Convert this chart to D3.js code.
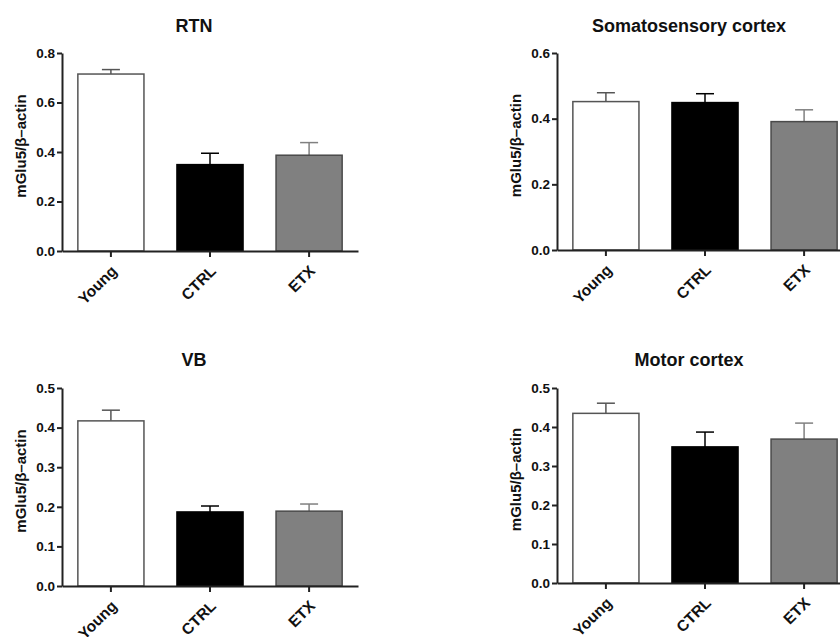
<!DOCTYPE html>
<html lang="en">

<head>
  <meta charset="UTF-8" />
  <script src="https://d3js.org/d3.v7.min.js"></script>
  <style>
    body {
      margin: 0;
      background-color: #fff;
      overflow: hidden;
    }

    svg {
      width: 840px;
      height: 637px;
      display: block;
      font-family: "Liberation Sans", Arial, sans-serif;
      font-weight: bold;
    }
  </style>
</head>

<body>
  <svg></svg>

  <script>
    const categories = ["Young", "CTRL", "ETX"];
    const titles = ["RTN", "Somatosensory cortex", "VB", "Motor cortex"];
    const yMax = [0.8, 0.6, 0.5, 0.5];
    const yTickStep = [0.2, 0.2, 0.1, 0.1];

    const rtnMean = [0.715, 0.349, 0.387];
    const rtnSem = [0.018, 0.046, 0.051];
    const somatoMean = [0.452, 0.449, 0.391];
    const somatoSem = [0.027, 0.027, 0.036];
    const vbMean = [0.417, 0.187, 0.189];
    const vbSem = [0.027, 0.015, 0.018];
    const motorMean = [0.435, 0.349, 0.369];
    const motorSem = [0.026, 0.038, 0.041];

    const means = [rtnMean, somatoMean, vbMean, motorMean];
    const sems = [rtnSem, somatoSem, vbSem, motorSem];

    const fills = ["#ffffff", "#000000", "#808080"];
    const strokes = ["#555555", "#000000", "#4a4a4a"];
    const errColors = ["#555555", "#000000", "#808080"];

    // panel geometry: y-axis x, plot top, plot bottom, title baseline
    const panels = [
      { left: 62, top: 53, bottom: 251, titleY: 32 },
      { left: 557, top: 53, bottom: 250, titleY: 32 },
      { left: 62, top: 388, bottom: 586, titleY: 366 },
      { left: 557, top: 388, bottom: 583, titleY: 366 }
    ];

    const svg = d3.select("svg");

    panels.forEach((p, i) => {
      const g = svg.append("g");
      const x = d3.scaleBand()
        .domain(categories)
        .range([p.left, p.left + 296])
        .paddingInner(0.333)
        .paddingOuter(0.16);
      const y = d3.scaleLinear()
        .domain([0, yMax[i]])
        .range([p.bottom, p.top]);

      const data = categories.map((c, j) => ({ cat: c, mean: means[i][j], sem: sems[i][j], j }));

      // error bars (upper only)
      const err = g.selectAll(".err").data(data).join("g");
      err.append("line")
        .attr("x1", d => x(d.cat) + x.bandwidth() / 2)
        .attr("x2", d => x(d.cat) + x.bandwidth() / 2)
        .attr("y1", d => y(d.mean))
        .attr("y2", d => y(d.mean + d.sem))
        .attr("stroke", d => errColors[d.j])
        .attr("stroke-width", 1.5);
      err.append("line")
        .attr("x1", d => x(d.cat) + x.bandwidth() / 2 - 9)
        .attr("x2", d => x(d.cat) + x.bandwidth() / 2 + 9)
        .attr("y1", d => y(d.mean + d.sem))
        .attr("y2", d => y(d.mean + d.sem))
        .attr("stroke", d => errColors[d.j])
        .attr("stroke-width", 1.5);

      // bars
      g.selectAll(".bar").data(data).join("rect")
        .attr("x", d => x(d.cat))
        .attr("y", d => y(d.mean))
        .attr("width", x.bandwidth())
        .attr("height", d => y(0) - y(d.mean))
        .attr("fill", d => fills[d.j])
        .attr("stroke", d => strokes[d.j])
        .attr("stroke-width", 1.5);

      // y axis
      const ticks = d3.range(0, yMax[i] + 1e-9, yTickStep[i]);
      const yAxis = g.append("g")
        .attr("transform", `translate(${p.left},0)`)
        .call(d3.axisLeft(y).tickValues(ticks).tickFormat(d3.format(".1f")).tickSize(5).tickSizeOuter(0));
      yAxis.select(".domain").attr("stroke", "#222").attr("stroke-width", 2);
      yAxis.selectAll(".tick line").attr("stroke", "#222").attr("stroke-width", 2);
      yAxis.selectAll(".tick text")
        .attr("x", -7)
        .attr("fill", "#111")
        .style("font-size", "13.5px")
        .style("font-family", "Liberation Sans, Arial, sans-serif")
        .style("font-weight", "bold");

      // x axis
      const xAxis = g.append("g")
        .attr("transform", `translate(0,${p.bottom})`)
        .call(d3.axisBottom(x).tickSize(6).tickSizeOuter(0));
      xAxis.select(".domain").attr("stroke", "#222").attr("stroke-width", 2);
      xAxis.selectAll(".tick line").attr("stroke", "#222").attr("stroke-width", 2);
      xAxis.selectAll(".tick text")
        .attr("y", 0)
        .attr("dy", 0)
        .attr("transform", "translate(7,21) rotate(-45)")
        .attr("text-anchor", "end")
        .attr("fill", "#111")
        .style("font-size", "15.5px")
        .style("font-family", "Liberation Sans, Arial, sans-serif")
        .style("font-weight", "bold");

      // y label
      g.append("text")
        .attr("transform", `translate(${p.left - 36},${(p.top + p.bottom) / 2 - 6}) rotate(-90)`)
        .attr("text-anchor", "middle")
        .attr("fill", "#111")
        .style("font-size", "15px")
        .text("mGlu5/β–actin");

      // title
      g.append("text")
        .attr("x", p.left + 132)
        .attr("y", p.titleY)
        .attr("text-anchor", "middle")
        .attr("fill", "#111")
        .style("font-size", "18px")
        .text(titles[i]);
    });
  </script>
</body>

</html>
